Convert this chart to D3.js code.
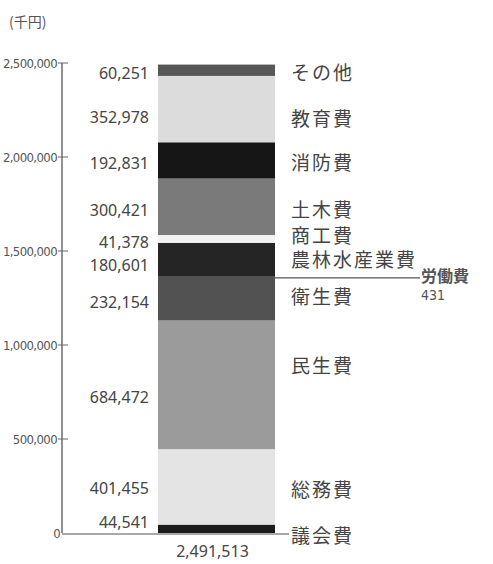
<!DOCTYPE html>
<html>
<head>
<meta charset="utf-8">
<script src="https://cdn.jsdelivr.net/npm/d3@7"></script>
<style>
  body { margin: 0; background: #fff; }
  text { font-family: "Noto Sans CJK JP", "Noto Sans", sans-serif; fill: #444; }
  .tick-label { font-family: "Liberation Sans Narrow", "DejaVu Sans Condensed", sans-serif; font-stretch: condensed; fill: #555; }
</style>
</head>
<body>
<script>
var width = 493;
var height = 564;

// data, bottom to top
var categories = ['議会費', '総務費', '民生費', '衛生費', '労働費', '農林水産業費', '商工費', '土木費', '消防費', '教育費', 'その他'];
var values = [44541, 401455, 684472, 232154, 431, 180601, 41378, 300421, 192831, 352978, 60251];
var total = 2491513;
var tickValues = [0, 500000, 1000000, 1500000, 2000000, 2500000];

// fills per segment
var fills = ['#1c1c1c', '#e4e4e4', '#9b9b9b', '#525252', '#333', '#252525', '#f2f2f2', '#7a7a7a', '#161616', '#dcdcdc', '#575757'];
// label nudges (px) so texts don't collide
var valueNudge = [-6, 2, 13, 4, 0, 6, 3, 4, 3, 8, 3];
var nameNudge = [8, 3, -18, -1, 0, 1, -3, 4, 3, 10, 3];

var svg = d3.select('body')
    .append('svg')
    .attr('width', width)
    .attr('height', height);

var y = d3.scaleLinear()
    .domain([0, 2500000])
    .range([533, 63]);

var x = d3.scaleBand()
    .domain(['total'])
    .range([158, 275])
    .padding(0);

// stack the segments
var stacked = [];
var acc = 0;
values.forEach(function(v, i) {
    stacked.push({name: categories[i], value: v, y0: acc, y1: acc + v, i: i});
    acc += v;
});

// unit
svg.append('text')
    .attr('x', 9)
    .attr('y', 27)
    .style('font-size', '14px')
    .style('fill', '#555')
    .text('(千円)');

// axis
var axisX = 62;
svg.append('line')
    .attr('x1', axisX).attr('x2', axisX)
    .attr('y1', y(2500000)).attr('y2', y(0))
    .attr('stroke', '#555').attr('stroke-width', 1.3);

svg.selectAll('line.tick')
    .data(tickValues.filter(function(d) { return d > 0; }))
    .enter()
    .append('line')
    .attr('class', 'tick')
    .attr('x1', axisX - 4).attr('x2', axisX + 6)
    .attr('y1', function(d) { return y(d); })
    .attr('y2', function(d) { return y(d); })
    .attr('stroke', '#666').attr('stroke-width', 1);

svg.selectAll('text.tick-label')
    .data(tickValues)
    .enter()
    .append('text')
    .attr('class', 'tick-label')
    .attr('x', function(d) { return d === 0 ? axisX - 2 : axisX - 5; })
    .attr('y', function(d) { return y(d); })
    .attr('dy', '0.35em')
    .attr('text-anchor', 'end')
    .style('font-size', '13px')
    .style('letter-spacing', '-0.6px')
    .text(function(d) { return d3.format(',')(d); });

// baseline
svg.append('line')
    .attr('x1', axisX).attr('x2', 289)
    .attr('y1', y(0) + 1).attr('y2', y(0) + 1)
    .attr('stroke', '#555').attr('stroke-width', 1.2);

// bars
svg.selectAll('rect.seg')
    .data(stacked)
    .enter()
    .append('rect')
    .attr('class', 'seg')
    .attr('x', x('total'))
    .attr('width', x.bandwidth())
    .attr('y', function(d) { return y(d.y1); })
    .attr('height', function(d) { return Math.max(0, y(d.y0) - y(d.y1)); })
    .attr('fill', function(d) { return fills[d.i]; });

var labelled = stacked.filter(function(d) { return d.name !== '労働費'; });

// value labels
svg.selectAll('text.val')
    .data(labelled)
    .enter()
    .append('text')
    .attr('class', 'val')
    .attr('x', 149)
    .attr('y', function(d) { return y((d.y0 + d.y1) / 2) + valueNudge[d.i]; })
    .attr('dy', '0.35em')
    .attr('text-anchor', 'end')
    .style('font-family', '"Noto Sans", sans-serif')
    .style('font-size', '16px')
    .text(function(d) { return d3.format(',')(d.value); });

// category labels
svg.selectAll('text.name')
    .data(labelled)
    .enter()
    .append('text')
    .attr('class', 'name')
    .attr('x', 291)
    .attr('y', function(d) { return y((d.y0 + d.y1) / 2) + nameNudge[d.i]; })
    .attr('dy', '0.35em')
    .style('font-size', '19px')
    .style('letter-spacing', '2px')
    .text(function(d) { return d.name; });

// 労働費 callout
var labor = stacked.filter(function(d) { return d.name === '労働費'; })[0];
var ly = y((labor.y0 + labor.y1) / 2) + 1;
svg.append('line')
    .attr('x1', x('total') + x.bandwidth()).attr('x2', 420)
    .attr('y1', ly).attr('y2', ly)
    .attr('stroke', '#555').attr('stroke-width', 1.2);

svg.append('text')
    .attr('x', 421)
    .attr('y', ly - 1)
    .attr('dy', '0.35em')
    .style('font-size', '16px')
    .style('font-weight', 'bold')
    .style('fill', '#555')
    .text(labor.name);

svg.append('text')
    .attr('x', 421)
    .attr('y', ly + 17)
    .attr('dy', '0.35em')
    .attr('class', 'tick-label')
    .style('font-size', '14px')
    .style('fill', '#555')
    .text(d3.format(',')(labor.value));

// total under bar
svg.append('text')
    .attr('x', x('total') + x.bandwidth() / 2 - 4)
    .attr('y', 551)
    .attr('dy', '0.35em')
    .attr('text-anchor', 'middle')
    .style('font-family', '"Noto Sans", sans-serif')
    .style('font-size', '16px')
    .text(d3.format(',')(total));
</script>
</body>
</html>
